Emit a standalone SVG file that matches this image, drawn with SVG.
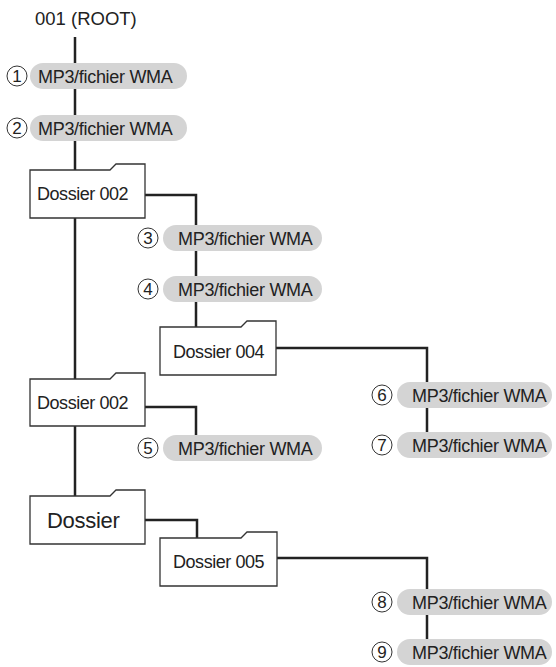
<svg xmlns="http://www.w3.org/2000/svg" width="556" height="667" viewBox="0 0 556 667">
<style>
.ln{fill:none;stroke:#222;stroke-width:2.5}
.pill{fill:#d4d4d4}
.fold{fill:#fff;stroke:#333;stroke-width:1.3}
.t{font-family:"Liberation Sans",Arial,sans-serif;font-size:18px;fill:#222;letter-spacing:-0.3px}
.ft{font-family:"Liberation Sans",Arial,sans-serif;font-size:18px;fill:#222;letter-spacing:-0.45px}
.num{font-family:"Liberation Sans",Arial,sans-serif;font-size:17px;fill:#222;text-anchor:middle}
.circ{fill:#fff;stroke:#333;stroke-width:1}
</style>
<rect width="556" height="667" fill="#fff"/>
<g id="connectors">
<path class="ln" d="M75,37 V496"/>
<path class="ln" d="M145,195 H196 V327"/>
<path class="ln" d="M276,348 H427 V445"/>
<path class="ln" d="M145,407 H196 V448"/>
<path class="ln" d="M145,520 H197 V538"/>
<path class="ln" d="M277,558 H427 V652"/>
</g>
<g id="root"><text class="t" x="35" y="25" style="font-size:18.5px;letter-spacing:0">001 (ROOT)</text></g>
<g id="file1"><circle class="circ" cx="17" cy="76" r="10"/><text class="num" x="17" y="82">1</text><rect class="pill" x="30" y="63" width="157" height="26" rx="13"/><text class="t" x="38" y="83">MP3/fichier WMA</text></g>
<g id="file2"><circle class="circ" cx="17" cy="128" r="10"/><text class="num" x="17" y="134">2</text><rect class="pill" x="30" y="115" width="157" height="26" rx="13"/><text class="t" x="38" y="135">MP3/fichier WMA</text></g>
<g id="folder1"><path class="fold" d="M30,170 H110 L116,164 H145 V218 H30 Z"/><text class="ft" x="37" y="200">Dossier 002</text></g>
<g id="file3"><circle class="circ" cx="148" cy="238" r="10"/><text class="num" x="148" y="244">3</text><rect class="pill" x="163" y="225" width="159" height="26" rx="13"/><text class="t" x="178" y="245">MP3/fichier WMA</text></g>
<g id="file4"><circle class="circ" cx="148" cy="289" r="10"/><text class="num" x="148" y="295">4</text><rect class="pill" x="163" y="276" width="159" height="26" rx="13"/><text class="t" x="178" y="296">MP3/fichier WMA</text></g>
<g id="folder4"><path class="fold" d="M160,327 H241 L247,321 H276 V375 H160 Z"/><text class="ft" x="173" y="358">Dossier 004</text></g>
<g id="file6"><circle class="circ" cx="382" cy="395" r="10"/><text class="num" x="382" y="401">6</text><rect class="pill" x="397" y="382" width="155" height="26" rx="13"/><text class="t" x="412" y="401.5">MP3/fichier WMA</text></g>
<g id="file7"><circle class="circ" cx="382" cy="445" r="10"/><text class="num" x="382" y="451">7</text><rect class="pill" x="397" y="432" width="155" height="26" rx="13"/><text class="t" x="412" y="451.5">MP3/fichier WMA</text></g>
<g id="folder2"><path class="fold" d="M30,379 H110 L116,373 H145 V426 H30 Z"/><text class="ft" x="37" y="409">Dossier 002</text></g>
<g id="file5"><circle class="circ" cx="148" cy="448" r="10"/><text class="num" x="148" y="454">5</text><rect class="pill" x="163" y="435" width="159" height="26" rx="13"/><text class="t" x="178" y="455">MP3/fichier WMA</text></g>
<g id="folder3"><path class="fold" d="M30,496 H110 L116,490 H145 V544 H30 Z"/><text class="ft" x="47" y="528" style="font-size:22px;letter-spacing:-0.3px">Dossier</text></g>
<g id="folder5"><path class="fold" d="M160,538 H241 L247,532 H277 V586 H160 Z"/><text class="ft" x="173" y="568">Dossier 005</text></g>
<g id="file8"><circle class="circ" cx="382" cy="602" r="10"/><text class="num" x="382" y="608">8</text><rect class="pill" x="397" y="589" width="155" height="26" rx="13"/><text class="t" x="412" y="608.5">MP3/fichier WMA</text></g>
<g id="file9"><circle class="circ" cx="382" cy="652" r="10"/><text class="num" x="382" y="658">9</text><rect class="pill" x="397" y="639" width="155" height="26" rx="13"/><text class="t" x="412" y="658.5">MP3/fichier WMA</text></g>
</svg>
